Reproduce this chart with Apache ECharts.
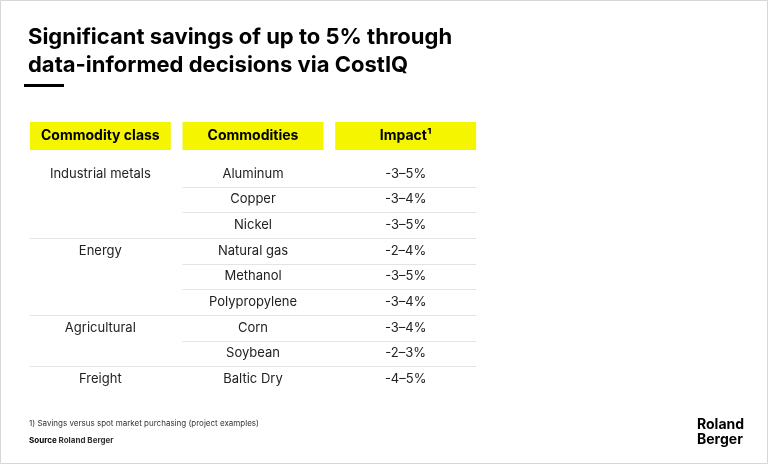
<!DOCTYPE html><html><head><meta charset="utf-8">
<script src="https://cdn.jsdelivr.net/npm/echarts@6/dist/echarts.min.js"></script>
<style>html,body{margin:0;padding:0;background:#fff}#c{width:768px;height:464px}</style></head><body><div id="c"></div>
<script>
const headers = ['Commodity class', 'Commodities', 'Impact¹'];
const classes = ['Industrial metals','','','Energy','','','Agricultural','','Freight'];
const commodities = ['Aluminum','Copper','Nickel','Natural gas','Methanol','Polypropylene','Corn','Soybean','Baltic Dry'];
const impacts = ['-3–5%','-3–4%','-3–5%','-2–4%','-3–5%','-3–4%','-3–4%','-2–3%','-4–5%'];
const rows = commodities.map((_, i) => String(i));

const F = 'Inter, "Noto Sans", sans-serif';
const chart = echarts.init(document.getElementById('c'));
const cellData = [];
rows.forEach((r, i) => {
  cellData.push([0.5, i, classes[i]]);
  cellData.push([1.5, i, commodities[i]]);
  cellData.push([2.5, i, impacts[i]]);
});
const lineData = [];
for (let i = 0; i < rows.length - 1; i++) lineData.push([i, classes[i + 1] ? 1 : 0]);

chart.setOption({
  animation: false,
  title: [
    {text: 'Significant savings of up to 5% through\ndata-informed decisions via CostIQ', left: 23, top: 18,
     textStyle: {fontFamily: F, fontSize: 22, fontWeight: 'bold', color: '#000', lineHeight: 28}},
    {text: '1) Savings versus spot market purchasing (project examples)', left: 24, top: 415,
     textStyle: {fontFamily: F, fontSize: 8, fontWeight: 'normal', color: '#333'}},
    {text: '{b|Source} Roland Berger', left: 24, top: 432,
     textStyle: {fontFamily: F, fontSize: 8, color: '#333', rich: {b: {fontFamily: F, fontSize: 8, fontWeight: 'bold', color: '#000'}}}},
    {text: 'Roland\nBerger', left: 692, top: 412,
     textStyle: {fontFamily: F, fontSize: 14, fontWeight: 'bold', color: '#000', lineHeight: 15}}
  ],
  graphic: [
    {type: 'rect', shape: {x: 0.5, y: 0.5, width: 767, height: 463}, style: {fill: 'none', stroke: '#d6d6d6', lineWidth: 1}},
    {type: 'rect', shape: {x: 24, y: 84, width: 40, height: 3}, style: {fill: '#000'}}
  ],
  grid: [
    {left: 24, right: 286, top: 122, height: 28},
    {left: 24, right: 286, top: 161, height: 231}
  ],
  xAxis: [
    {gridIndex: 0, type: 'value', min: 0, max: 3, show: false},
    {gridIndex: 1, type: 'value', min: 0, max: 3, show: false}
  ],
  yAxis: [
    {gridIndex: 0, type: 'category', data: ['h'], show: false},
    {gridIndex: 1, type: 'category', data: rows, inverse: true, show: false}
  ],
  series: [
    {type: 'custom', xAxisIndex: 0, yAxisIndex: 0,
     data: headers.map((h, i) => [i + 0.5, 0, h]),
     renderItem: (p, api) => {
       const c = api.coord([api.value(0), api.value(1)]);
       const w = api.size([1, 0])[0] * 0.923, h = 28;
       return {type: 'group', children: [
         {type: 'rect', shape: {x: c[0] - w / 2, y: c[1] - h / 2, width: w, height: h}, style: {fill: '#f5f500'}},
         {type: 'text', x: c[0], y: c[1], style: {text: headers[p.dataIndex], fontFamily: F, fontSize: 14, fontWeight: 'bold', fill: '#000', align: 'center', verticalAlign: 'middle'}}
       ]};
     }},
    {type: 'custom', xAxisIndex: 1, yAxisIndex: 1, data: lineData,
     renderItem: (p, api) => {
       const i = api.value(0), full = api.value(1);
       const c0 = api.coord([full ? 0.5 : 1.5, i]);
       const c1 = api.coord([2.5, i]);
       const cw = api.size([1, 0])[0] * 0.923, rh = api.size([0, 1])[1];
       const y = Math.round(c0[1] + rh / 2) + 0.5;
       return {type: 'line', shape: {x1: c0[0] - cw / 2, y1: y, x2: c1[0] + cw / 2, y2: y}, style: {stroke: '#e4e4e4', lineWidth: 1}};
     }},
    {type: 'custom', xAxisIndex: 1, yAxisIndex: 1, data: cellData,
     renderItem: (p, api) => {
       const c = api.coord([api.value(0), api.value(1)]);
       return {type: 'text', x: c[0], y: c[1], style: {text: cellData[p.dataIndex][2], fontFamily: F, fontSize: 13, fill: '#222', align: 'center', verticalAlign: 'middle'}};
     }}
  ]
});
</script></body></html>
